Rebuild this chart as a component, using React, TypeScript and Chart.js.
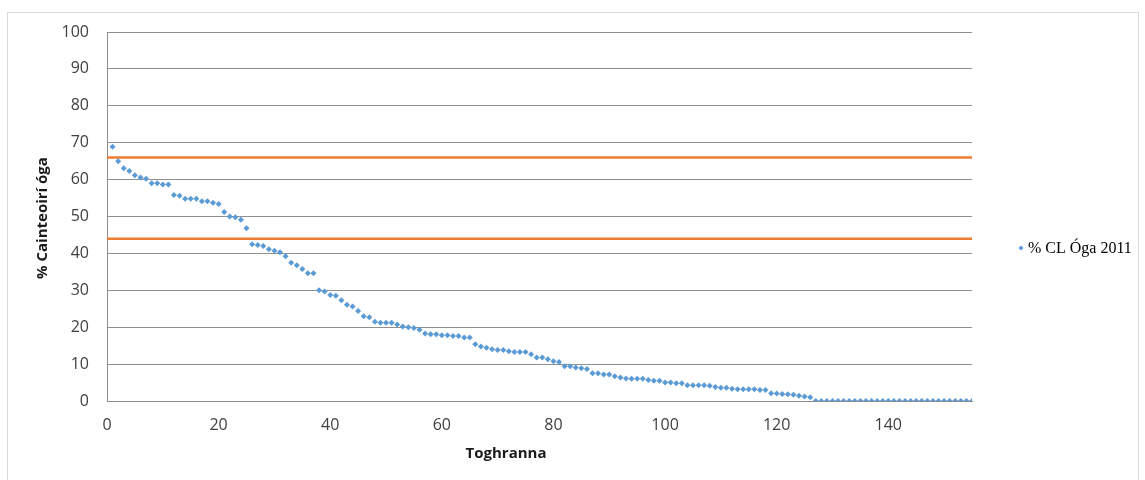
import React, { useEffect, useRef } from "react";
import { Chart, registerables } from "chart.js";

Chart.register(...registerables);

const seriesLabel = "% CL Óga 2011";
const xTitle = "Toghranna";
const yTitle = "% Cainteoirí óga";

// % young speakers per electoral division, ranked (divisions 1..155)
const youngSpeakerPct = [
  68.9, 65.0, 63.1, 62.3, 61.2, 60.6, 60.2, 59.0, 59.0, 58.7,
  58.7, 55.8, 55.6, 54.8, 54.8, 54.8, 54.1, 54.1, 53.7, 53.4,
  51.2, 50.0, 49.8, 49.1, 46.8, 42.5, 42.3, 42.0, 41.1, 40.7,
  40.3, 39.2, 37.5, 36.8, 35.8, 34.6, 34.6, 30.0, 29.7, 28.7,
  28.5, 27.3, 26.1, 25.6, 24.4, 23.0, 22.7, 21.5, 21.2, 21.2,
  21.2, 20.7, 20.2, 20.0, 19.8, 19.3, 18.3, 18.1, 18.1, 17.8,
  17.8, 17.6, 17.6, 17.2, 17.2, 15.4, 14.8, 14.4, 14.0, 13.8,
  13.8, 13.5, 13.3, 13.3, 13.3, 12.7, 11.8, 11.8, 11.3, 10.8,
  10.6, 9.4, 9.4, 9.1, 8.9, 8.7, 7.5, 7.5, 7.2, 7.2,
  6.7, 6.4, 6.1, 6.0, 6.0, 6.0, 5.7, 5.5, 5.5, 5.0,
  5.0, 4.8, 4.8, 4.3, 4.3, 4.3, 4.3, 4.1, 3.8, 3.6,
  3.6, 3.3, 3.2, 3.2, 3.2, 3.2, 3.0, 3.0, 2.1, 2.0,
  1.9, 1.8, 1.7, 1.4, 1.2, 1.0, 0, 0, 0, 0,
  0, 0, 0, 0, 0, 0, 0, 0, 0, 0,
  0, 0, 0, 0, 0, 0, 0, 0, 0, 0,
  0, 0, 0, 0, 0,
];

const thresholdLines = [66, 44];
const xTickValues = [0, 20, 40, 60, 80, 100, 120, 140];
const yTickValues = [0, 10, 20, 30, 40, 50, 60, 70, 80, 90, 100];
const xMin = 0;
const xMax = 155;

const BLUE = "#5B9BD5";
const ORANGE = "#ED7D31";

const decorPlugin = {
  id: "decor",
  beforeDraw(chart: any) {
    const ctx = chart.ctx;
    ctx.save();
    ctx.fillStyle = "#ffffff";
    ctx.fillRect(0, 0, chart.width, chart.height);
    ctx.strokeStyle = "#d9d9d9";
    ctx.lineWidth = 1;
    ctx.strokeRect(7.5, 12.5, 1131, 500);
    ctx.restore();
  },
  afterDraw(chart: any) {
    const ctx = chart.ctx;
    ctx.save();
    ctx.fillStyle = "#1a1a1a";
    ctx.font = 'bold 15px "Open Sans"';
    ctx.textAlign = "center";
    ctx.textBaseline = "middle";
    ctx.fillText(xTitle, 506, 454);
    ctx.save();
    ctx.translate(43, 218);
    ctx.rotate(-Math.PI / 2);
    ctx.fillText(yTitle, 0, 0);
    ctx.restore();

    // legend
    const lx = 1021;
    const ly = 248;
    ctx.fillStyle = BLUE;
    ctx.beginPath();
    ctx.moveTo(lx, ly - 2.5);
    ctx.lineTo(lx + 2.5, ly);
    ctx.lineTo(lx, ly + 2.5);
    ctx.lineTo(lx - 2.5, ly);
    ctx.closePath();
    ctx.fill();
    ctx.fillStyle = "#000000";
    ctx.font = '16px "Liberation Serif"';
    ctx.textAlign = "left";
    ctx.textBaseline = "alphabetic";
    ctx.fillText(seriesLabel, 1028, 253);
    ctx.restore();
  },
};

export default function App() {
  const canvasRef = useRef<HTMLCanvasElement | null>(null);

  useEffect(() => {
    if (!canvasRef.current) return;
    const points = youngSpeakerPct.map((v, i) => ({ x: i + 1, y: v }));
    const lineSets = thresholdLines.map((t) => ({
      type: "line" as const,
      label: "threshold " + t,
      data: [
        { x: xMin, y: t },
        { x: xMax, y: t },
      ],
      borderColor: ORANGE,
      backgroundColor: ORANGE,
      borderWidth: 2.5,
      pointRadius: 0,
      fill: false,
    }));

    const chart = new Chart(canvasRef.current, {
      type: "scatter",
      data: {
        datasets: [
          {
            label: seriesLabel,
            data: points,
            pointStyle: "rectRot",
            pointRadius: 3,
            pointBackgroundColor: BLUE,
            pointBorderColor: BLUE,
            pointBorderWidth: 0,
            showLine: false,
          } as any,
          ...lineSets,
        ],
      },
      options: {
        responsive: false,
        animation: false,
        devicePixelRatio: 1,
        layout: { padding: { left: 0, top: 32, right: 173, bottom: 0 } },
        plugins: {
          legend: { display: false },
          tooltip: { enabled: false },
          title: { display: false },
        },
        scales: {
          x: {
            type: "linear",
            min: xMin,
            max: xMax,
            afterBuildTicks: (scale: any) => {
              scale.ticks = xTickValues.map((v) => ({ value: v }));
            },
            afterFit: (scale: any) => {
              scale.height = 79;
            },
            grid: { display: false, drawTicks: false },
            border: { display: true, color: "#8c8c8c", width: 1 },
            ticks: {
              padding: 15,
              color: "#404040",
              font: { family: "Open Sans", size: 16 },
              maxRotation: 0,
            },
          },
          y: {
            type: "linear",
            min: 0,
            max: 100,
            afterBuildTicks: (scale: any) => {
              scale.ticks = yTickValues.map((v) => ({ value: v }));
            },
            afterFit: (scale: any) => {
              scale.width = 107;
            },
            grid: { display: true, color: "#909090", lineWidth: 1, drawTicks: false },
            border: { display: true, color: "#8c8c8c", width: 1 },
            ticks: {
              padding: 18,
              color: "#404040",
              font: { family: "Open Sans", size: 16 },
            },
          },
        },
      } as any,
      plugins: [decorPlugin],
    });
    return () => chart.destroy();
  }, []);

  return (
    <div style={{ position: "absolute", left: 0, top: 0, width: 1145, height: 480, background: "#fff" }}>
      <canvas ref={canvasRef} width={1145} height={480} style={{ display: "block" }} />
    </div>
  );
}
